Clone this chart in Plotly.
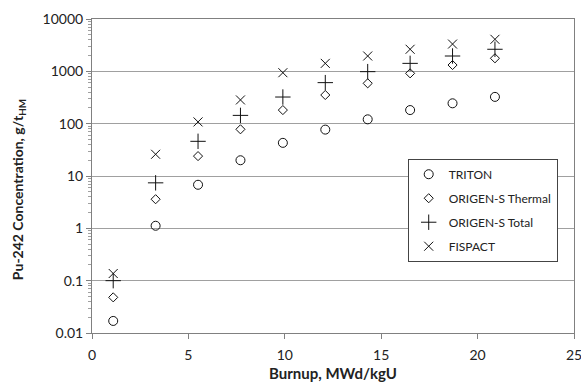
import plotly.graph_objects as go

burnup = [1.1, 3.3, 5.5, 7.7, 9.9, 12.1, 14.3, 16.5, 18.7, 20.9]
triton = [0.017, 1.12, 6.8, 20, 43, 77, 121, 182, 245, 325]
origen_thermal = [0.048, 3.6, 24, 78, 182, 353, 590, 915, 1320, 1775]
origen_total = [0.10, 7.4, 46, 144, 323, 608, 986, 1420, 1963, 2640]
fispact = [0.137, 26, 108, 284, 942, 1420, 1963, 2640, 3320, 4090]

x_title = "Burnup, MWd/kgU"
y_title = "Pu-242 Concentration, g/t<sub>HM</sub>"

series = [
    ("TRITON", triton, "circle-open", 9),
    ("ORIGEN-S Thermal", origen_thermal, "diamond-open", 7),
    ("ORIGEN-S Total", origen_total, "cross-thin-open", 11),
    ("FISPACT", fispact, "x-thin-open", 9),
]

fig = go.Figure()
for name, vals, sym, size in series:
    fig.add_trace(go.Scatter(
        x=burnup, y=vals, mode="markers", name=name, legendgroup=name,
        marker=dict(symbol=sym, size=size, color="#111",
                    line=dict(color="#111", width=1)),
    ))

font_family = "Lato, Open Sans, sans-serif"
fig.update_layout(
    width=581, height=383,
    margin=dict(l=92, r=7, t=19, b=50),
    paper_bgcolor="white", plot_bgcolor="white",
    font=dict(family=font_family, size=13, color="#222"),
    showlegend=True,
    legend=dict(x=0.655, y=0.555, xanchor="left", yanchor="top",
                bordercolor="#444", borderwidth=1, bgcolor="white",
                font=dict(size=12, color="#222"), tracegroupgap=5),
    xaxis=dict(range=[0, 25], dtick=5, tick0=0, automargin=False,
               ticklabeloverflow="allow",
               showgrid=False, zeroline=False,
               showline=True, linecolor="#808080", linewidth=1, mirror=True,
               ticks="outside", ticklen=5, tickcolor="#808080",
               ticklabelstandoff=4,
               tickfont=dict(size=14)),
    yaxis=dict(type="log", range=[-2, 4], dtick=1, automargin=False,
               ticklabeloverflow="allow",
               tickformat="~g",
               showgrid=True, gridcolor="#a0a0a0", gridwidth=1,
               zeroline=False,
               showline=True, linecolor="#808080", linewidth=1, mirror=True,
               ticks="outside", ticklen=5, tickcolor="#808080",
               minor=dict(ticks="outside", ticklen=3, tickcolor="#a0a0a0",
                          dtick="D1", showgrid=False),
               tickfont=dict(size=14)),
    annotations=[
        dict(text="<b>" + x_title + "</b>", xref="paper", yref="paper",
             x=0.5, y=-0.127, xanchor="center", yanchor="middle",
             showarrow=False, font=dict(size=15, color="#222")),
        dict(text="<b>" + y_title + "</b>", xref="paper", yref="paper",
             x=-0.1535, y=0.455, xanchor="center", yanchor="middle",
             textangle=-90, showarrow=False, font=dict(size=14, color="#222")),
    ],
)

fig.write_html("out.html")
